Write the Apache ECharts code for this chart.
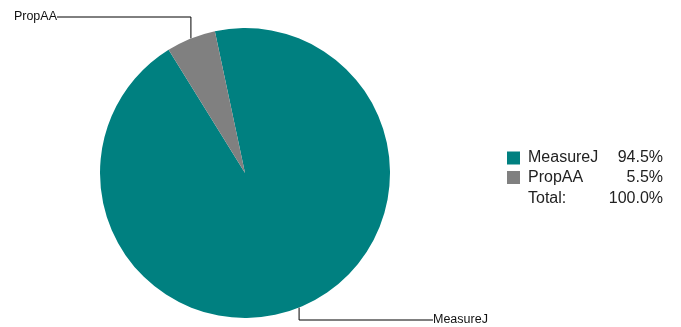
<!DOCTYPE html>
<html>
<head>
<meta charset="utf-8">
<script src="https://cdn.jsdelivr.net/npm/echarts@6/dist/echarts.min.js"></script>
<style>html,body{margin:0;padding:0;background:#fff}#c{width:681px;height:327px}</style>
</head>
<body>
<div id="c"></div>
<script>
const categories = ['MeasureJ', 'PropAA'];
const values = [94.5, 5.5];
const colors = ['#008080', '#808080'];
const totalLabel = 'Total:';

const total = values.reduce((a, b) => a + b, 0);
const chart = echarts.init(document.getElementById('c'), null, {renderer: 'canvas'});
const FONT = 'Liberation Sans, Arial, Helvetica, sans-serif';

chart.setOption({
  animation: false,
  color: colors,
  legend: {
    orient: 'vertical',
    left: 507,
    top: 150,
    padding: 0,
    itemWidth: 13,
    itemHeight: 13,
    itemGap: 3.5,
    icon: 'rect',
    data: categories,
    formatter: function (name) {
      const i = categories.indexOf(name);
      return '{n|' + name + '}{v|' + values[i].toFixed(1) + '%}';
    },
    textStyle: {
      fontFamily: FONT,
      fontSize: 16,
      color: '#222',
      lineHeight: 14,
      rich: {
        n: {fontFamily: FONT, fontSize: 16, color: '#222', width: 80, lineHeight: 14, padding: [0, 0, 0, 3]},
        v: {fontFamily: FONT, fontSize: 16, color: '#222', width: 55, lineHeight: 14, align: 'right'}
      }
    }
  },
  graphic: [
    {type: 'text', x: 528, y: 199, style: {text: totalLabel, fontFamily: FONT, fontSize: 16, fill: '#222', verticalAlign: 'middle'}},
    {type: 'text', x: 663, y: 199, style: {text: total.toFixed(1) + '%', fontFamily: FONT, fontSize: 16, fill: '#222', align: 'right', verticalAlign: 'middle'}}
  ],
  series: [{
    type: 'pie',
    center: [245, 173],
    radius: 145,
    startAngle: 102,
    clockwise: true,
    avoidLabelOverlap: false,
    itemStyle: {borderWidth: 0},
    emphasis: {disabled: true},
    label: {
      show: true,
      position: 'outside',
      formatter: '{b}',
      fontFamily: FONT,
      fontSize: 12.5,
      color: '#111'
    },
    labelLine: {
      show: true,
      length: 10,
      length2: 10,
      lineStyle: {color: '#000', width: 1}
    },
    labelLayout: function (p) {
      const pt = p.labelLinePoints ? p.labelLinePoints[0] : [0, 0];
      if (p.dataIndex === 1) {
        return {x: 57, y: 17, align: 'right', verticalAlign: 'middle',
          labelLinePoints: [pt, [pt[0], 17], [57, 17]]};
      }
      return {x: 433, y: 320, align: 'left', verticalAlign: 'middle',
        labelLinePoints: [pt, [pt[0], 320], [433, 320]]};
    },
    data: categories.map((c, i) => ({name: c, value: values[i]}))
  }]
});
</script>
</body>
</html>
